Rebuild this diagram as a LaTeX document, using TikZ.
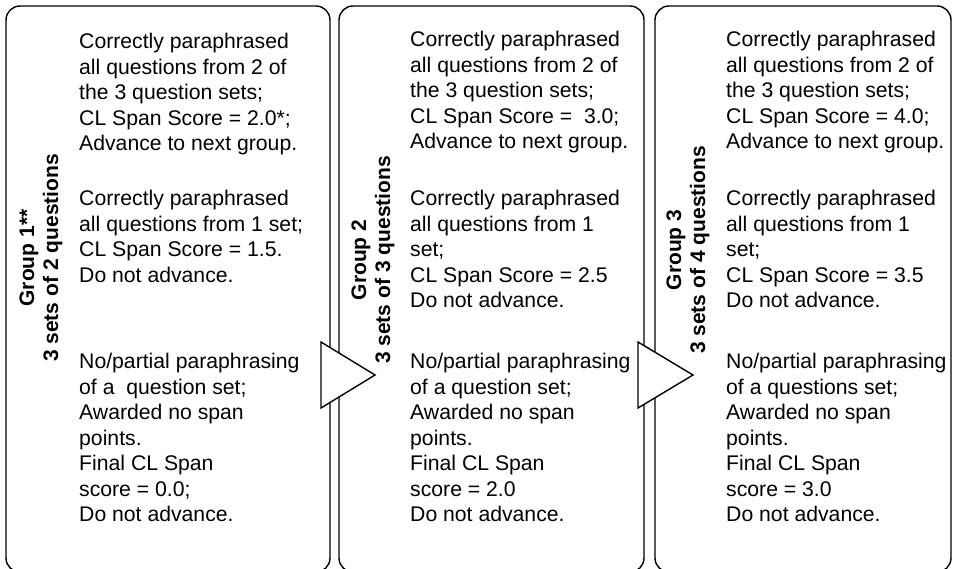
\documentclass[tikz,border=0pt]{standalone}
\usepackage{fontspec}
\setmainfont{Liberation Sans}
\begin{document}
\begin{tikzpicture}[x=1pt,y=-1pt,
  panel/.style={draw,line width=1.4pt,rounded corners=14pt,inner sep=0pt,minimum height=566pt},
  blurb/.style={anchor=north west,inner sep=0pt,align=left,font=\fontsize{21.2}{25.5}\selectfont},
  grouplabel/.style={rotate=90,inner sep=0pt,align=center,font=\fontsize{21}{24}\selectfont\bfseries},
  pointer/.style={draw,line width=1.4pt,fill=white,line join=miter}]
\useasboundingbox (0,0) rectangle (957,569);
\clip (0,0) rectangle (957,569);

% the three group panels
\node[panel,minimum width=324pt] (p1) at (168,289) {};
\node[panel,minimum width=305pt] (p2) at (491.5,289) {};
\node[panel,minimum width=296pt] (p3) at (803,289) {};

% arrows leading from one group to the next
\coordinate (a1) at (375,375);
\coordinate (a2) at (693,375);
\draw[pointer] (321,342) -- (a1) -- (321,408) -- cycle;
\draw[pointer] (638,342) -- (a2) -- (638,408) -- cycle;

% group titles
\node[grouplabel] (g1) at (41,258) {Group 1**\\3 sets of 2 questions};
\node[grouplabel] (g2) at (373,260) {Group 2\\3 sets of 3 questions};
\node[grouplabel] (g3) at (688,250) {Group 3\\3 sets of 4 questions};

% group 1 outcomes
\node[blurb] (t11) at (79,33) {Correctly paraphrased\\all questions from 2 of\\the 3 question sets;\\CL Span Score = 2.0*;\\Advance to next group.};
\node[blurb] (t12) at (79,190) {Correctly paraphrased\\all questions from 1 set;\\CL Span Score = 1.5.\\Do not advance.};
\node[blurb] (t13) at (79,353) {No/partial paraphrasing\\of a\ \ question set;\\Awarded no span\\points.\\Final CL Span\\score = 0.0;\\Do not advance.};

% group 2 outcomes
\node[blurb] (t21) at (410,31) {Correctly paraphrased\\all questions from 2 of\\the 3 question sets;\\CL Span Score =\ \ 3.0;\\Advance to next group.};
\node[blurb] (t22) at (410,190) {Correctly paraphrased\\all questions from 1\\set;\\CL Span Score = 2.5\\Do not advance.};
\node[blurb] (t23) at (410,353) {No/partial paraphrasing\\of a question set;\\Awarded no span\\points.\\Final CL Span\\score = 2.0\\Do not advance.};

% group 3 outcomes
\node[blurb] (t31) at (726,31) {Correctly paraphrased\\all questions from 2 of\\the 3 question sets;\\CL Span Score = 4.0;\\Advance to next group.};
\node[blurb] (t32) at (726,190) {Correctly paraphrased\\all questions from 1\\set;\\CL Span Score = 3.5\\Do not advance.};
\node[blurb] (t33) at (726,353) {No/partial paraphrasing\\of a questions set;\\Awarded no span\\points.\\Final CL Span\\score = 3.0\\Do not advance.};
\end{tikzpicture}
\end{document}
